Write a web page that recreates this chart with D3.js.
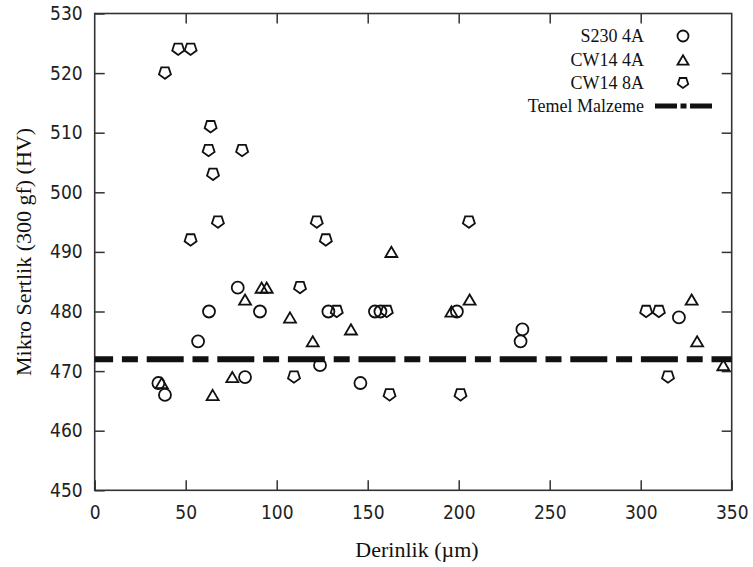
<!DOCTYPE html>
<html>
<head>
<meta charset="utf-8">
<script src="https://cdn.jsdelivr.net/npm/d3@7"></script>
<style>
  body { margin: 0; background: #fff; }
  .tick text { font-family: 'DejaVu Sans Condensed', 'DejaVu Sans', sans-serif; font-stretch: condensed; font-size: 19px; fill: #222; }
  .tick line { stroke: #333; stroke-width: 1.5; }
  .title, .legend text { font-family: 'Liberation Serif', 'DejaVu Serif', 'Times New Roman', serif; fill: #111; }
</style>
</head>
<body>
<div id="main"></div>
<script>
//size of the page and plot box
const width = 753;
const height = 567;
const plotLeft = 94.7, plotRight = 731.7, plotTop = 13.5, plotBottom = 490.3;

//data
const seriesNames = ["S230 4A", "CW14 4A", "CW14 8A"];
const baseName = "Temel Malzeme";
const baseValue = 472;

const s230Depth = [35, 38.6, 56.8, 62.8, 78.6, 82.6, 90.8, 123.8, 128.4, 146, 154, 157, 199, 234, 235, 321];
const s230Hard  = [468, 466, 475, 480, 484, 469, 480, 471, 480, 468, 480, 480, 480, 475, 477, 479];

const cw4Depth = [36.8, 64.8, 75.6, 82.6, 91.7, 94.5, 107.3, 119.8, 140.8, 163, 196, 206, 328, 331, 345.4];
const cw4Hard  = [468, 466, 469, 482, 484, 484, 479, 475, 477, 490, 480, 482, 482, 475, 471];

const cw8Depth = [38.6, 45.9, 52.7, 63.7, 62.6, 65, 81, 52.7, 67.7, 112.8, 122, 127, 109.5, 133, 160.5, 162, 201, 205.6, 303, 310, 315];
const cw8Hard  = [520, 524, 524, 511, 507, 503, 507, 492, 495, 484, 495, 492, 469, 480, 480, 466, 466, 495, 480, 480, 469];

const xTicks = [0, 50, 100, 150, 200, 250, 300, 350];
const yTicks = [450, 460, 470, 480, 490, 500, 510, 520, 530];

//custom marker shapes, size = radius
const circleType = {
  draw(ctx, r) { ctx.moveTo(r, 0); ctx.arc(0, 0, r, 0, 2 * Math.PI); }
};
const triangleType = {
  draw(ctx, r) {
    ctx.moveTo(0, -r * 0.85);
    ctx.lineTo(r, r * 0.85);
    ctx.lineTo(-r, r * 0.85);
    ctx.closePath();
  }
};
const pentagonType = {
  draw(ctx, r) {
    for (let i = 0; i < 5; i++) {
      const a = Math.PI / 2 + i * 2 * Math.PI / 5;
      const px = r * Math.cos(a), py = r * Math.sin(a) - r * 0.1;
      if (i === 0) ctx.moveTo(px, py); else ctx.lineTo(px, py);
    }
    ctx.closePath();
  }
};

const svg = d3.select('#main')
  .append('svg')
  .attr('width', width)
  .attr('height', height);

const xScale = d3.scaleLinear().domain([0, 350]).range([plotLeft, plotRight]);
const yScale = d3.scaleLinear().domain([450, 530]).range([plotBottom, plotTop]);

//axes with inward ticks
svg.append('g')
  .attr('transform', 'translate(0,' + plotBottom + ')')
  .call(d3.axisBottom(xScale).tickValues(xTicks).tickSizeInner(-10).tickSizeOuter(0).tickPadding(15));
svg.append('g')
  .attr('transform', 'translate(' + plotLeft + ',0)')
  .call(d3.axisLeft(yScale).tickValues(yTicks).tickSizeInner(-10).tickSizeOuter(0).tickPadding(12));
svg.append('g')
  .attr('transform', 'translate(0,' + plotTop + ')')
  .call(d3.axisTop(xScale).tickValues(xTicks.slice(1, -1)).tickSizeInner(-10).tickSizeOuter(0).tickFormat(''));
svg.append('g')
  .attr('transform', 'translate(' + plotRight + ',0)')
  .call(d3.axisRight(yScale).tickValues(yTicks.slice(1, -1)).tickSizeInner(-10).tickSizeOuter(0).tickFormat(''));
svg.selectAll('.domain').remove();

//frame
svg.append('rect')
  .attr('x', plotLeft).attr('y', plotTop)
  .attr('width', plotRight - plotLeft).attr('height', plotBottom - plotTop)
  .attr('fill', 'none').attr('stroke', '#333').attr('stroke-width', 1.6);

//base material line
svg.append('line')
  .attr('x1', xScale(0)).attr('x2', xScale(350))
  .attr('y1', yScale(baseValue)).attr('y2', yScale(baseValue))
  .attr('stroke', '#111').attr('stroke-width', 6)
  .attr('stroke-dasharray', '37,8.8,16,8.8')
  .attr('stroke-dashoffset', 18.6);

//markers
const series = [
  { x: s230Depth, y: s230Hard, type: circleType, r: 6 },
  { x: cw4Depth, y: cw4Hard, type: triangleType, r: 6 },
  { x: cw8Depth, y: cw8Hard, type: pentagonType, r: 6.3 }
];
series.forEach(function(s) {
  const pts = s.x.map(function(d, i) { return [d, s.y[i]]; });
  svg.append('g').selectAll('path').data(pts).enter()
    .append('path')
    .attr('d', d3.symbol().type(s.type).size(s.r))
    .attr('transform', function(d) { return 'translate(' + xScale(d[0]) + ',' + yScale(d[1]) + ')'; })
    .attr('fill', 'none')
    .attr('stroke', '#111')
    .attr('stroke-width', 1.8);
});

//axis titles
svg.append('text').attr('class', 'title')
  .attr('x', 417).attr('y', 557)
  .attr('text-anchor', 'middle')
  .style('font-size', '22px')
  .text('Derinlik (\u00b5m)');
svg.append('text').attr('class', 'title')
  .attr('transform', 'translate(31,252) rotate(-90)')
  .attr('text-anchor', 'middle')
  .style('font-size', '22px')
  .text('Mikro Sertlik (300 gf) (HV)');

//legend
const legend = svg.append('g').attr('class', 'legend');
const rows = [36, 60, 83, 106];
const legendItems = seriesNames.concat([baseName]);
legend.selectAll('text').data(legendItems).enter()
  .append('text')
  .attr('x', 644)
  .attr('y', function(d, i) { return rows[i]; })
  .attr('dy', '0.35em')
  .attr('text-anchor', 'end')
  .style('font-size', '18px')
  .text(function(d) { return d; });
series.forEach(function(s, i) {
  legend.append('path')
    .attr('d', d3.symbol().type(s.type).size(5.5))
    .attr('transform', 'translate(683,' + rows[i] + ')')
    .attr('fill', 'none').attr('stroke', '#111').attr('stroke-width', 1.8);
});
legend.append('line')
  .attr('x1', 655).attr('x2', 712)
  .attr('y1', rows[3]).attr('y2', rows[3])
  .attr('stroke', '#111').attr('stroke-width', 5)
  .attr('stroke-dasharray', '22,3.5,6,3.5');
</script>
</body>
</html>
